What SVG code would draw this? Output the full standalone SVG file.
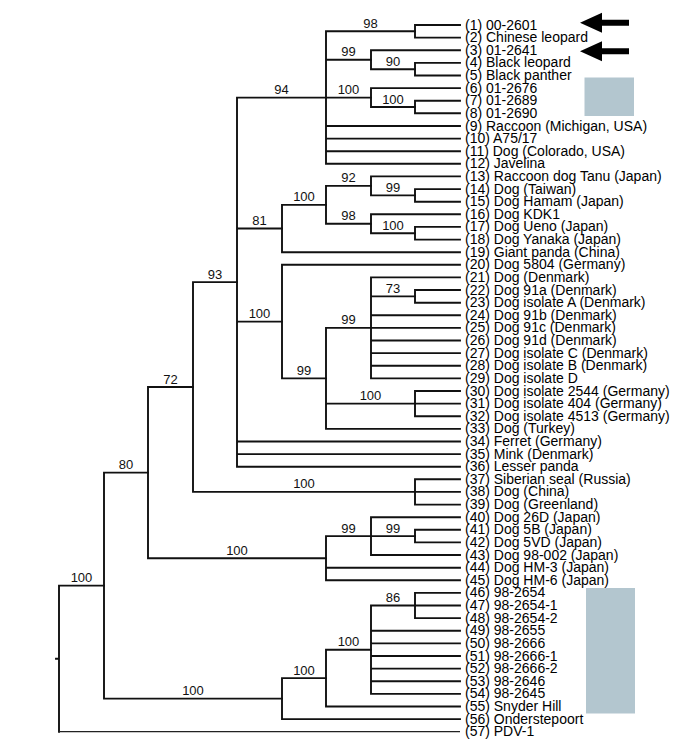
<svg xmlns="http://www.w3.org/2000/svg" xmlns:xlink="http://www.w3.org/1999/xlink" width="685" height="750" viewBox="0 0 685 750">
<style>
.br{fill:none;stroke:#111;stroke-width:1.9;stroke-linecap:square}
.thin{fill:none;stroke:#222;stroke-width:1.3}
.lf{font-family:"Liberation Sans",Arial,sans-serif;font-size:14px;fill:#000}
.bs{font-family:"Liberation Sans",Arial,sans-serif;font-size:13px;fill:#111;text-anchor:middle}
.box{fill:#b3c6cf}
</style>
<defs>
<path id="arrow" d="M0 0 L22 -10 L22 -3 L49 -3 L49 3 L22 3 L22 10 Z" fill="#000"/>
</defs>
<rect width="685" height="750" fill="#fff"/>
<g id="connectors">
<path class="br" d="M326 31.3V163.8M326 31.3H415M326 59.7H371M326 97.6H371M326 126H460M326 138.6H460M326 151.2H460M326 163.8H460"/>
<path class="br" d="M415 25V37.6M415 25H460M415 37.6H460"/>
<path class="br" d="M371 50.2V69.2M371 50.2H460M371 69.2H415"/>
<path class="br" d="M415 62.9V75.5M415 62.9H460M415 75.5H460"/>
<path class="br" d="M371 88.1V107M371 88.1H460M371 107H415"/>
<path class="br" d="M415 100.7V113.3M415 100.7H460M415 113.3H460"/>
<path class="br" d="M237 97.6V466.7M237 97.6H326M237 228.5H282M237 321.6H282M237 441.5H460M237 454.1H460M237 466.7H460"/>
<path class="br" d="M282 204.9V252.2M282 204.9H326M282 252.2H460"/>
<path class="br" d="M326 185.9V223.8M326 185.9H371M326 223.8H371"/>
<path class="br" d="M371 176.4V195.4M371 176.4H460M371 195.4H415"/>
<path class="br" d="M415 189.1V201.7M415 189.1H460M415 201.7H460"/>
<path class="br" d="M371 214.3V233.3M371 214.3H460M371 233.3H415"/>
<path class="br" d="M415 226.9V239.6M415 226.9H460M415 239.6H460"/>
<path class="br" d="M282 264.8V378.4M282 264.8H460M282 378.4H326"/>
<path class="br" d="M326 327.9V428.9M326 327.9H371M326 403.6H415M326 428.9H460"/>
<path class="br" d="M371 277.4V378.4M371 277.4H460M371 296.4H415M371 315.3H460M371 327.9H460M371 340.5H460M371 353.1H460M371 365.8H460M371 378.4H460"/>
<path class="br" d="M415 290V302.7M415 290H460M415 302.7H460"/>
<path class="br" d="M415 391V416.2M415 391H460M415 403.6H460M415 416.2H460"/>
<path class="br" d="M193 282.1V491.9M193 282.1H237M193 491.9H415"/>
<path class="br" d="M415 479.3V504.6M415 479.3H460M415 491.9H460M415 504.6H460"/>
<path class="br" d="M148 387V558.2M148 387H193M148 558.2H326"/>
<path class="br" d="M326 536.1V580.3M326 536.1H371M326 567.7H460M326 580.3H460"/>
<path class="br" d="M371 517.2V555M371 517.2H460M371 536.1H415M371 555H460"/>
<path class="br" d="M415 529.8V542.4M415 529.8H460M415 542.4H460"/>
<path class="br" d="M104 472.6V698.6M104 472.6H148M104 698.6H282"/>
<path class="br" d="M282 678.1V719.1M282 678.1H326M282 719.1H460"/>
<path class="br" d="M326 649.7V706.5M326 649.7H371M326 706.5H460"/>
<path class="br" d="M371 605.5V693.9M371 605.5H415M371 630.8H460M371 643.4H460M371 656H460M371 668.6H460M371 681.2H460M371 693.9H460"/>
<path class="br" d="M415 592.9V618.1M415 592.9H460M415 605.5H460M415 618.1H460"/>
<path class="br" d="M59 585.6V731.7M59 585.6H104M56 658.7H59"/>
<path class="thin" d="M59 731.7H460"/>
</g>
<g id="support-values">
<text class="bs" x="370.5" y="27.8">98</text>
<text class="bs" x="393" y="65.7">90</text>
<text class="bs" x="348.5" y="56.2">99</text>
<text class="bs" x="393" y="103.5">100</text>
<text class="bs" x="348.5" y="94.1">100</text>
<text class="bs" x="281.5" y="94">94</text>
<text class="bs" x="393" y="191.9">99</text>
<text class="bs" x="348.5" y="182.4">92</text>
<text class="bs" x="393" y="229.8">100</text>
<text class="bs" x="348.5" y="220.3">98</text>
<text class="bs" x="304" y="201.4">100</text>
<text class="bs" x="259.5" y="225">81</text>
<text class="bs" x="393" y="292.9">73</text>
<text class="bs" x="348.5" y="324.4">99</text>
<text class="bs" x="370.5" y="400.1">100</text>
<text class="bs" x="304" y="374.9">99</text>
<text class="bs" x="259.5" y="318.1">100</text>
<text class="bs" x="215" y="278.6">93</text>
<text class="bs" x="304" y="488.4">100</text>
<text class="bs" x="170.5" y="383.5">72</text>
<text class="bs" x="393" y="532.6">99</text>
<text class="bs" x="348.5" y="532.6">99</text>
<text class="bs" x="237" y="554.7">100</text>
<text class="bs" x="126" y="469.1">80</text>
<text class="bs" x="393" y="602">86</text>
<text class="bs" x="348.5" y="646.2">100</text>
<text class="bs" x="304" y="674.6">100</text>
<text class="bs" x="193" y="695.1">100</text>
<text class="bs" x="81.5" y="582.1">100</text>
</g>
<g id="leaf-1"><text class="lf" x="465" y="29.5">(1) 00-2601</text></g>
<g id="leaf-2"><text class="lf" x="465" y="42.1">(2) Chinese leopard</text></g>
<g id="leaf-3"><text class="lf" x="465" y="54.7">(3) 01-2641</text></g>
<g id="leaf-4"><text class="lf" x="465" y="67.4">(4) Black leopard</text></g>
<g id="leaf-5"><text class="lf" x="465" y="80">(5) Black panther</text></g>
<g id="leaf-6"><text class="lf" x="465" y="92.6">(6) 01-2676</text></g>
<g id="leaf-7"><text class="lf" x="465" y="105.2">(7) 01-2689</text></g>
<g id="leaf-8"><text class="lf" x="465" y="117.8">(8) 01-2690</text></g>
<g id="leaf-9"><text class="lf" x="465" y="130.5">(9) Raccoon (Michigan, USA)</text></g>
<g id="leaf-10"><text class="lf" x="465" y="143.1">(10) A75/17</text></g>
<g id="leaf-11"><text class="lf" x="465" y="155.7">(11) Dog (Colorado, USA)</text></g>
<g id="leaf-12"><text class="lf" x="465" y="168.3">(12) Javelina</text></g>
<g id="leaf-13"><text class="lf" x="465" y="180.9">(13) Raccoon dog Tanu (Japan)</text></g>
<g id="leaf-14"><text class="lf" x="465" y="193.6">(14) Dog (Taiwan)</text></g>
<g id="leaf-15"><text class="lf" x="465" y="206.2">(15) Dog Hamam (Japan)</text></g>
<g id="leaf-16"><text class="lf" x="465" y="218.8">(16) Dog KDK1</text></g>
<g id="leaf-17"><text class="lf" x="465" y="231.4">(17) Dog Ueno (Japan)</text></g>
<g id="leaf-18"><text class="lf" x="465" y="244.1">(18) Dog Yanaka (Japan)</text></g>
<g id="leaf-19"><text class="lf" x="465" y="256.7">(19) Giant panda (China)</text></g>
<g id="leaf-20"><text class="lf" x="465" y="269.3">(20) Dog 5804 (Germany)</text></g>
<g id="leaf-21"><text class="lf" x="465" y="281.9">(21) Dog (Denmark)</text></g>
<g id="leaf-22"><text class="lf" x="465" y="294.5">(22) Dog 91a (Denmark)</text></g>
<g id="leaf-23"><text class="lf" x="465" y="307.2">(23) Dog isolate A (Denmark)</text></g>
<g id="leaf-24"><text class="lf" x="465" y="319.8">(24) Dog 91b (Denmark)</text></g>
<g id="leaf-25"><text class="lf" x="465" y="332.4">(25) Dog 91c (Denmark)</text></g>
<g id="leaf-26"><text class="lf" x="465" y="345">(26) Dog 91d (Denmark)</text></g>
<g id="leaf-27"><text class="lf" x="465" y="357.6">(27) Dog isolate C (Denmark)</text></g>
<g id="leaf-28"><text class="lf" x="465" y="370.3">(28) Dog isolate B (Denmark)</text></g>
<g id="leaf-29"><text class="lf" x="465" y="382.9">(29) Dog isolate D</text></g>
<g id="leaf-30"><text class="lf" x="465" y="395.5">(30) Dog isolate 2544 (Germany)</text></g>
<g id="leaf-31"><text class="lf" x="465" y="408.1">(31) Dog isolate 404 (Germany)</text></g>
<g id="leaf-32"><text class="lf" x="465" y="420.7">(32) Dog isolate 4513 (Germany)</text></g>
<g id="leaf-33"><text class="lf" x="465" y="433.4">(33) Dog (Turkey)</text></g>
<g id="leaf-34"><text class="lf" x="465" y="446">(34) Ferret (Germany)</text></g>
<g id="leaf-35"><text class="lf" x="465" y="458.6">(35) Mink (Denmark)</text></g>
<g id="leaf-36"><text class="lf" x="465" y="471.2">(36) Lesser panda</text></g>
<g id="leaf-37"><text class="lf" x="465" y="483.8">(37) Siberian seal (Russia)</text></g>
<g id="leaf-38"><text class="lf" x="465" y="496.4">(38) Dog (China)</text></g>
<g id="leaf-39"><text class="lf" x="465" y="509.1">(39) Dog (Greenland)</text></g>
<g id="leaf-40"><text class="lf" x="465" y="521.7">(40) Dog 26D (Japan)</text></g>
<g id="leaf-41"><text class="lf" x="465" y="534.3">(41) Dog 5B (Japan)</text></g>
<g id="leaf-42"><text class="lf" x="465" y="546.9">(42) Dog 5VD (Japan)</text></g>
<g id="leaf-43"><text class="lf" x="465" y="559.5">(43) Dog 98-002 (Japan)</text></g>
<g id="leaf-44"><text class="lf" x="465" y="572.2">(44) Dog HM-3 (Japan)</text></g>
<g id="leaf-45"><text class="lf" x="465" y="584.8">(45) Dog HM-6 (Japan)</text></g>
<g id="leaf-46"><text class="lf" x="465" y="597.4">(46) 98-2654</text></g>
<g id="leaf-47"><text class="lf" x="465" y="610">(47) 98-2654-1</text></g>
<g id="leaf-48"><text class="lf" x="465" y="622.6">(48) 98-2654-2</text></g>
<g id="leaf-49"><text class="lf" x="465" y="635.3">(49) 98-2655</text></g>
<g id="leaf-50"><text class="lf" x="465" y="647.9">(50) 98-2666</text></g>
<g id="leaf-51"><text class="lf" x="465" y="660.5">(51) 98-2666-1</text></g>
<g id="leaf-52"><text class="lf" x="465" y="673.1">(52) 98-2666-2</text></g>
<g id="leaf-53"><text class="lf" x="465" y="685.7">(53) 98-2646</text></g>
<g id="leaf-54"><text class="lf" x="465" y="698.4">(54) 98-2645</text></g>
<g id="leaf-55"><text class="lf" x="465" y="711">(55) Snyder Hill</text></g>
<g id="leaf-56"><text class="lf" x="465" y="723.6">(56) Onderstepoort</text></g>
<g id="leaf-57"><text class="lf" x="465" y="736.2">(57) PDV-1</text></g>
<g id="annotations">
<use xlink:href="#arrow" href="#arrow" x="580" y="22.8"/>
<use xlink:href="#arrow" href="#arrow" x="580" y="51.3"/>
<rect class="box" x="584.5" y="77.5" width="49.5" height="38.5"/>
<rect class="box" x="586" y="588" width="49" height="125.5"/>
</g>
</svg>
